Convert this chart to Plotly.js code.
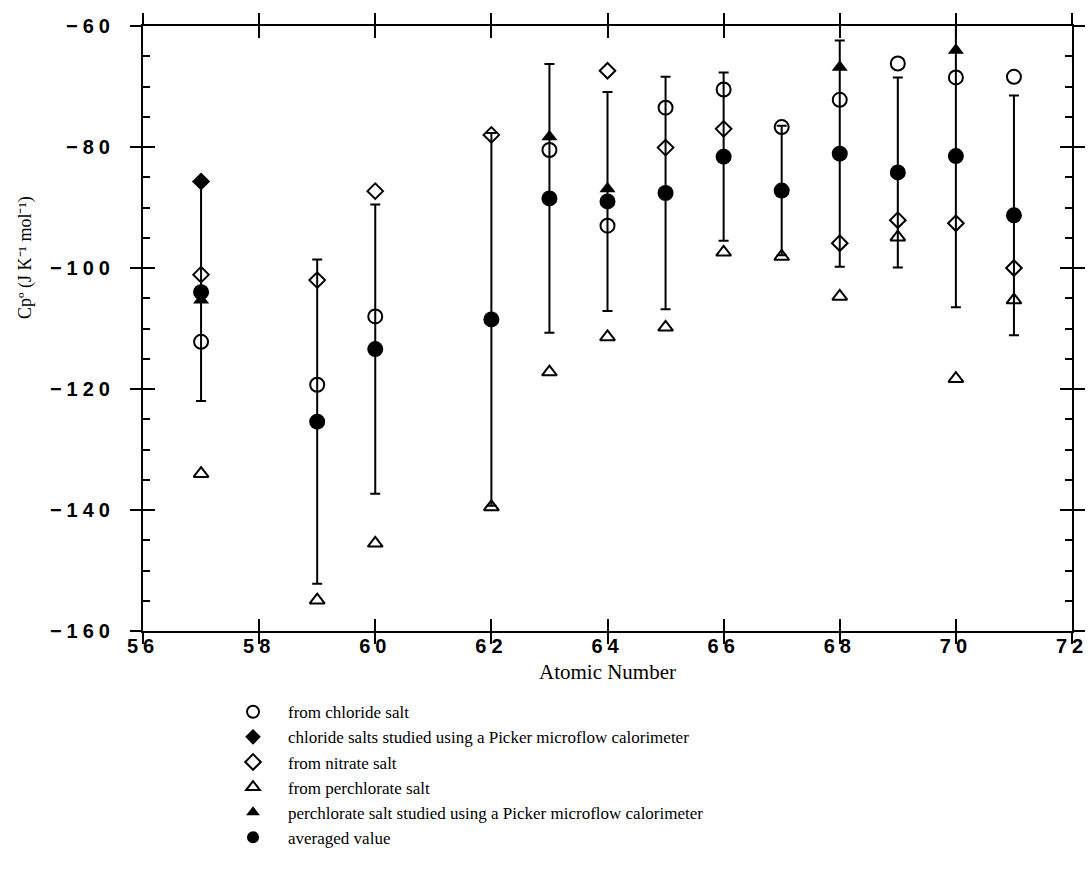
<!DOCTYPE html>
<html>
<head>
<meta charset="utf-8">
<script src="https://cdn.plot.ly/plotly-3.0.1.min.js"></script>
<style>
  html, body { margin:0; padding:0; background:#fff; }
  .xtick text, .ytick text { letter-spacing: 5px; }
</style>
</head>
<body>
<div id="chart" style="width:1089px;height:871px;"></div>
<script>
// ---- data ----
const chlorideZ  = [57, 59, 60, 63, 64, 65, 66, 67, 68, 69, 70, 71];
const chlorideCp = [-112.2, -119.3, -108.0, -80.5, -93.0, -73.5, -70.5, -76.7, -72.2, -66.2, -68.5, -68.4];

const chloridePickerZ  = [57];
const chloridePickerCp = [-85.7];

const nitrateZ  = [57, 59, 60, 62, 64, 65, 66, 68, 69, 70, 71];
const nitrateCp = [-101.1, -102.0, -87.3, -78.0, -67.4, -80.1, -77.0, -95.9, -92.1, -92.6, -100.0];

const perchlorateZ  = [57, 59, 60, 62, 63, 64, 65, 66, 67, 68, 69, 70, 71];
const perchlorateCp = [-134.0, -154.9, -145.5, -139.5, -117.2, -111.4, -109.8, -97.4, -98.1, -104.7, -94.9, -118.3, -105.3];

const perchloratePickerZ  = [57, 63, 64, 68, 70];
const perchloratePickerCp = [-105.3, -78.3, -86.9, -66.8, -64.0];

const averagedZ   = [57, 59, 60, 62, 63, 64, 65, 66, 67, 68, 69, 70, 71];
const averagedCp  = [-104.0, -125.4, -113.4, -108.5, -88.5, -89.0, -87.6, -81.6, -87.2, -81.1, -84.2, -81.5, -91.3];
const averagedErr = [18.0, 26.8, 23.9, 30.8, 22.2, 18.1, 19.2, 13.9, 10.7, 18.7, 15.7, 25.0, 19.8];

const xTicks = [56, 58, 60, 62, 64, 66, 68, 70, 72];
const yTicks = [-160, -140, -120, -100, -80, -60];

const seriesNames = [
  'from chloride salt',
  'chloride salts studied using a Picker microflow calorimeter',
  'from nitrate salt',
  'from perchlorate salt',
  'perchlorate salt studied using a Picker microflow calorimeter',
  'averaged value'
];

const yTitle = 'Cp\u00BA (J K\u207B\u00B9 mol\u207B\u00B9)';
const xTitle = 'Atomic Number';

// ---- traces ----
const traces = [
  { x: averagedZ, y: averagedCp, name: seriesNames[5], legendrank: 6, mode: 'markers', type: 'scatter',
    marker: { symbol: 'circle', size: 16, color: 'black' },
    error_y: { type: 'data', array: averagedErr, visible: true, color: 'black', thickness: 2, width: 5 } },
  { x: chlorideZ, y: chlorideCp, name: seriesNames[0], legendrank: 1, mode: 'markers', type: 'scatter',
    marker: { symbol: 'circle-open', size: 14, color: 'black', line: { width: 2 } } },
  { x: chloridePickerZ, y: chloridePickerCp, name: seriesNames[1], legendrank: 2, mode: 'markers', type: 'scatter',
    marker: { symbol: 'diamond', size: 14, color: 'black' } },
  { x: nitrateZ, y: nitrateCp, name: seriesNames[2], legendrank: 3, mode: 'markers', type: 'scatter',
    marker: { symbol: 'diamond-open', size: 12, color: 'black', line: { width: 2 } } },
  { x: perchlorateZ, y: perchlorateCp, name: seriesNames[3], legendrank: 4, mode: 'markers', type: 'scatter',
    marker: { symbol: 'triangle-up-open', size: 13, color: 'black', line: { width: 2 } } },
  { x: perchloratePickerZ, y: perchloratePickerCp, name: seriesNames[4], legendrank: 5, mode: 'markers', type: 'scatter',
    marker: { symbol: 'triangle-up', size: 14, color: 'black' } },
  // empty helper trace so the outward-tick overlay axes are drawn
  { x: [], y: [], xaxis: 'x2', yaxis: 'y2', type: 'scatter', mode: 'markers', showlegend: false, hoverinfo: 'skip' }
];

const tickFont = { family: 'Liberation Sans, Arial, sans-serif', size: 20, color: 'black', weight: 700 };
const serif = 'Liberation Serif, Times New Roman, serif';

const layout = {
  width: 1089, height: 871,
  margin: { l: 143, r: 17, t: 26, b: 240, autoexpand: false },
  paper_bgcolor: 'white', plot_bgcolor: 'white',
  showlegend: true,
  legend: {
    xref: 'container', yref: 'container', x: 0.2002, y: 0.203, xanchor: 'left', yanchor: 'top',
    font: { family: serif, size: 17, color: 'black' },
    itemwidth: 60, itemsizing: 'constant', bgcolor: 'rgba(0,0,0,0)', tracegroupgap: 0
  },
  xaxis: {
    range: [56, 72], tickvals: xTicks, ticks: 'inside', ticklen: 12, tickwidth: 2, tickcolor: 'black',
    showline: true, linewidth: 2, linecolor: 'black', mirror: 'ticks', showgrid: false, zeroline: false,
    tickfont: tickFont, ticklabelstandoff: -4,
    title: { text: xTitle, font: { family: serif, size: 21, color: 'black' }, standoff: 8 }
  },
  yaxis: {
    range: [-160, -60], tickvals: yTicks, ticks: 'inside', ticklen: 12, tickwidth: 2, tickcolor: 'black',
    showline: true, linewidth: 2, linecolor: 'black', mirror: 'ticks', showgrid: false, zeroline: false,
    tickfont: tickFont, ticklabelstandoff: 22,
    minor: { dtick: 5, ticks: 'inside', ticklen: 7, tickwidth: 2, tickcolor: 'black', showgrid: false }
  },
  xaxis2: {
    overlaying: 'x', anchor: 'y2', range: [56, 72], tickvals: xTicks, ticks: 'outside', ticklen: 12, tickwidth: 2,
    tickcolor: 'black', mirror: 'ticks', showline: false, showticklabels: false, showgrid: false, zeroline: false
  },
  yaxis2: {
    overlaying: 'y', anchor: 'x2', range: [-160, -60], tickvals: yTicks, ticks: 'outside', ticklen: 12, tickwidth: 2,
    tickcolor: 'black', mirror: 'ticks', showline: false, showticklabels: false, showgrid: false, zeroline: false
  },
  annotations: [
    { text: yTitle, textangle: -90,
      xref: 'paper', yref: 'paper', x: -0.127, y: 0.6165, xanchor: 'center', yanchor: 'middle', showarrow: false,
      font: { family: serif, size: 18, color: 'black' } }
  ]
};

Plotly.newPlot('chart', traces, layout, { displayModeBar: false, staticPlot: true });
</script>
</body>
</html>
